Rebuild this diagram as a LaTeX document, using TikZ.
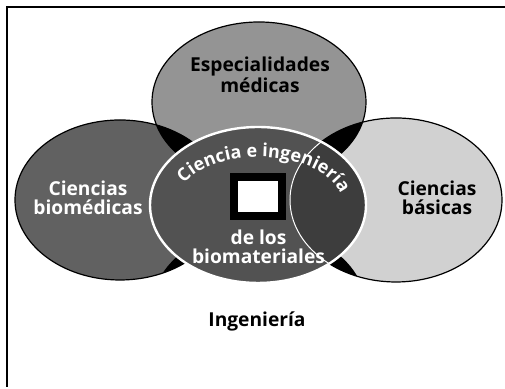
\documentclass[tikz,border=0pt]{standalone}
\usepackage{fontspec}
\setmainfont{Open Sans}
\usepackage{tikz}
\usetikzlibrary{positioning, decorations.text}
\tikzstyle{lettering} = [font=\bfseries\fontsize{9.6}{9.5}\selectfont, align=center, inner sep=0pt]
\tikzstyle{rim} = [draw=black, line width=0.6pt]
\tikzstyle{hollow} = [rectangle, draw=black, fill=white, line width=4pt, minimum width=24pt, minimum height=19.5pt, inner sep=0pt]
\newcommand{\medicasarea}{(259,287) ellipse [x radius=107, y radius=80]}
\newcommand{\biomedicasarea}{(120,189) ellipse [x radius=105, y radius=80]}
\newcommand{\basicasarea}{(396,189) ellipse [x radius=106, y radius=82]}
\newcommand{\ingenieriaarea}{(259,81) ellipse [x radius=107, y radius=80]}
\newcommand{\coinarea}{(258,184) ellipse [x radius=108, y radius=78]}

\begin{document}
\begin{tikzpicture}[x=0.5pt, y=0.5pt]
	\useasboundingbox (0,0) rectangle (505,389);
	\draw [line width=1pt] (7,2) -- (7,382) -- (505,382);
	
	% outer fields
	\fill [black!42] \medicasarea;
	\fill [black!62] \biomedicasarea;
	\fill [black!18] \basicasarea;
	\begin{scope}
		\clip \medicasarea;
		\fill [black] \biomedicasarea;
		\fill [black] \basicasarea;
	\end{scope}
	\begin{scope}
		\clip \ingenieriaarea;
		\fill [black] \biomedicasarea;
		\fill [black] \basicasarea;
	\end{scope}
	\draw [rim] \medicasarea;
	\draw [rim] \biomedicasarea;
	\draw [rim] \basicasarea;
	
	% the coin
	\fill [black!68] \coinarea;
	\begin{scope}
		\clip \coinarea;
		\fill [black!76] \basicasarea;
		\draw [white, line width=0.5pt] \basicasarea;
	\end{scope}
	\draw [white, line width=1.2pt] \coinarea;
	\node (hole) [hollow] at (258.5,192.5) {};
	\path [decorate, decoration={text along path, text align=center, text color=white,
		text={|\bfseries\fontsize{9}{9}\selectfont|Ciencia e ingeniería}}]
		(259,184) ++(155:84 and 48) arc [start angle=155, end angle=12, x radius=84, y radius=48];
	\node (biomateriales) [lettering, text=white, below=5pt of hole] {de los\\biomateriales};
	
	\node (medicas) [lettering] at (260,314) {Especialidades\\médicas};
	\node (biomedicas) [lettering, text=white] at (88,191) {Ciencias\\biomédicas};
	\node (basicas) [lettering] at (437,191) {Ciencias\\básicas};
	\node (ingenieria) [lettering] at (257,68) {Ingeniería};
\end{tikzpicture}
\end{document}
